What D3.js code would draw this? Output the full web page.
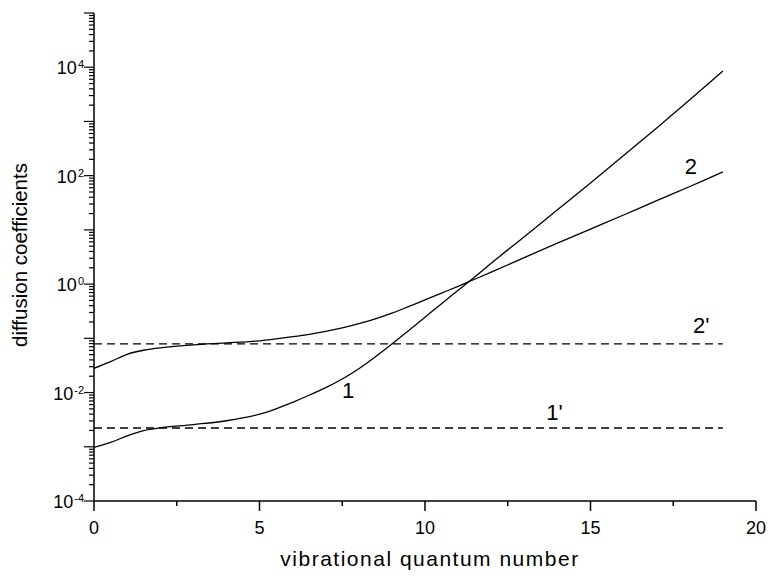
<!DOCTYPE html>
<html lang="en-US">
<head>
<meta charset="UTF-8">
<title>diffusion coefficients</title>
<script src="https://d3js.org/d3.v7.min.js"></script>
<style>
  body { margin: 0; background: #fff; }
  text { font-family: "Liberation Sans", Arial, Helvetica, sans-serif; fill: #000; }
  .curve { fill: none; stroke: #000; stroke-width: 1.3px; }
  .dash { fill: none; stroke: #000; stroke-width: 1.3px; stroke-dasharray: 8,5; }
</style>
</head>
<body>
<script>

// vibrational quantum number
var qn = [0, 0.5, 1, 1.5, 2, 3, 4, 5, 5.5, 6, 6.5, 7, 7.5, 8, 8.5, 9, 9.5, 10,
          10.5, 11, 11.5, 12, 13, 14, 15, 16, 17, 18, 19];

// log10 of the diffusion coefficient, curve 1
var logD1 = [-3.01, -2.92, -2.80, -2.70, -2.65, -2.59, -2.52, -2.40, -2.30, -2.18,
             -2.05, -1.91, -1.75, -1.56, -1.34, -1.105, -0.86, -0.61, -0.36, -0.115,
             0.13, 0.385, 0.875, 1.37, 1.865, 2.37, 2.88, 3.40, 3.93];

// log10 of the diffusion coefficient, curve 2
var logD2 = [-1.553, -1.43, -1.295, -1.22, -1.175, -1.12, -1.085, -1.045, -1.01, -0.97,
             -0.925, -0.87, -0.805, -0.73, -0.64, -0.535, -0.415, -0.29, -0.165, -0.04,
             0.09, 0.22, 0.49, 0.755, 1.015, 1.275, 1.54, 1.80, 2.07];

// constant levels 1' and 2'
var level1p = 0.00222;
var level2p = 0.079;

var xTicksMajor = [0, 5, 10, 15, 20];
var xTicksMinor = [2.5, 7.5, 12.5, 17.5];
var yLabelExp = [-4, -2, 0, 2, 4];

var curveLabels = [
  {text: "1", x: 7.49, y: 0.0079},
  {text: "1'", x: 13.66, y: 0.00312},
  {text: "2", x: 17.85, y: 107},
  {text: "2'", x: 18.1, y: 0.1255}
];

var width = 771, height = 577;

var x = d3.scaleLinear().domain([0, 20]).range([94, 756]);
var y = d3.scaleLog().domain([1e-4, 1e5]).range([501, 13]);

var svg = d3.select("body").append("svg")
    .attr("width", width)
    .attr("height", height);

var line = d3.line()
    .curve(d3.curveCatmullRom.alpha(0.5))
    .x(function(d) { return x(d[0]); })
    .y(function(d) { return y(Math.pow(10, d[1])); });

svg.append("path")
    .attr("class", "curve")
    .attr("d", line(qn.map(function(v, i) { return [v, logD1[i]]; })));

svg.append("path")
    .attr("class", "curve")
    .attr("d", line(qn.map(function(v, i) { return [v, logD2[i]]; })));

[level1p, level2p].forEach(function(v) {
  svg.append("line")
      .attr("class", "dash")
      .attr("x1", x(0)).attr("x2", x(19))
      .attr("y1", y(v)).attr("y2", y(v));
});

// axes
var ax = svg.append("g").attr("stroke", "#000").attr("stroke-width", 1.5);

ax.append("line")
    .attr("x1", x(0)).attr("x2", x(20))
    .attr("y1", y(1e-4)).attr("y2", y(1e-4));
ax.append("line")
    .attr("x1", x(0)).attr("x2", x(0))
    .attr("y1", y(1e-4)).attr("y2", y(1e5));

xTicksMajor.forEach(function(t) {
  ax.append("line").attr("x1", x(t)).attr("x2", x(t))
      .attr("y1", y(1e-4)).attr("y2", y(1e-4) + 10);
});
xTicksMinor.forEach(function(t) {
  ax.append("line").attr("x1", x(t)).attr("x2", x(t))
      .attr("y1", y(1e-4)).attr("y2", y(1e-4) + 5);
});

y.ticks().forEach(function(t) {
  var e = Math.log10(t);
  var major = Math.abs(e - Math.round(e)) < 1e-9;
  ax.append("line")
      .attr("stroke-width", 1.2)
      .attr("x1", x(0) - (major ? 10 : 5)).attr("x2", x(0))
      .attr("y1", y(t)).attr("y2", y(t));
});

svg.selectAll(".xlab")
    .data(xTicksMajor)
  .enter().append("text")
    .attr("x", function(d) { return x(d); })
    .attr("y", 534)
    .attr("text-anchor", "middle")
    .style("font-size", "18px")
    .text(function(d) { return d; });

yLabelExp.forEach(function(e) {
  var t = svg.append("text")
      .attr("x", 84)
      .attr("y", y(Math.pow(10, e)) + 7)
      .attr("text-anchor", "end")
      .style("font-size", "18px");
  t.append("tspan").text("10");
  t.append("tspan")
      .attr("dx", 1)
      .attr("dy", -6)
      .style("font-size", "11px")
      .text(e);
});

svg.append("text")
    .attr("x", 430)
    .attr("y", 566)
    .attr("text-anchor", "middle")
    .style("font-size", "21px")
    .style("letter-spacing", "1.5px")
    .text("vibrational quantum number");

svg.append("text")
    .attr("transform", "translate(27,255) rotate(-90)")
    .attr("text-anchor", "middle")
    .style("font-size", "20.5px")
    .text("diffusion coefficients");

svg.selectAll(".clab")
    .data(curveLabels)
  .enter().append("text")
    .attr("x", function(d) { return x(d.x); })
    .attr("y", function(d) { return y(d.y); })
    .style("font-size", "22px")
    .text(function(d) { return d.text; });

</script>
</body>
</html>
